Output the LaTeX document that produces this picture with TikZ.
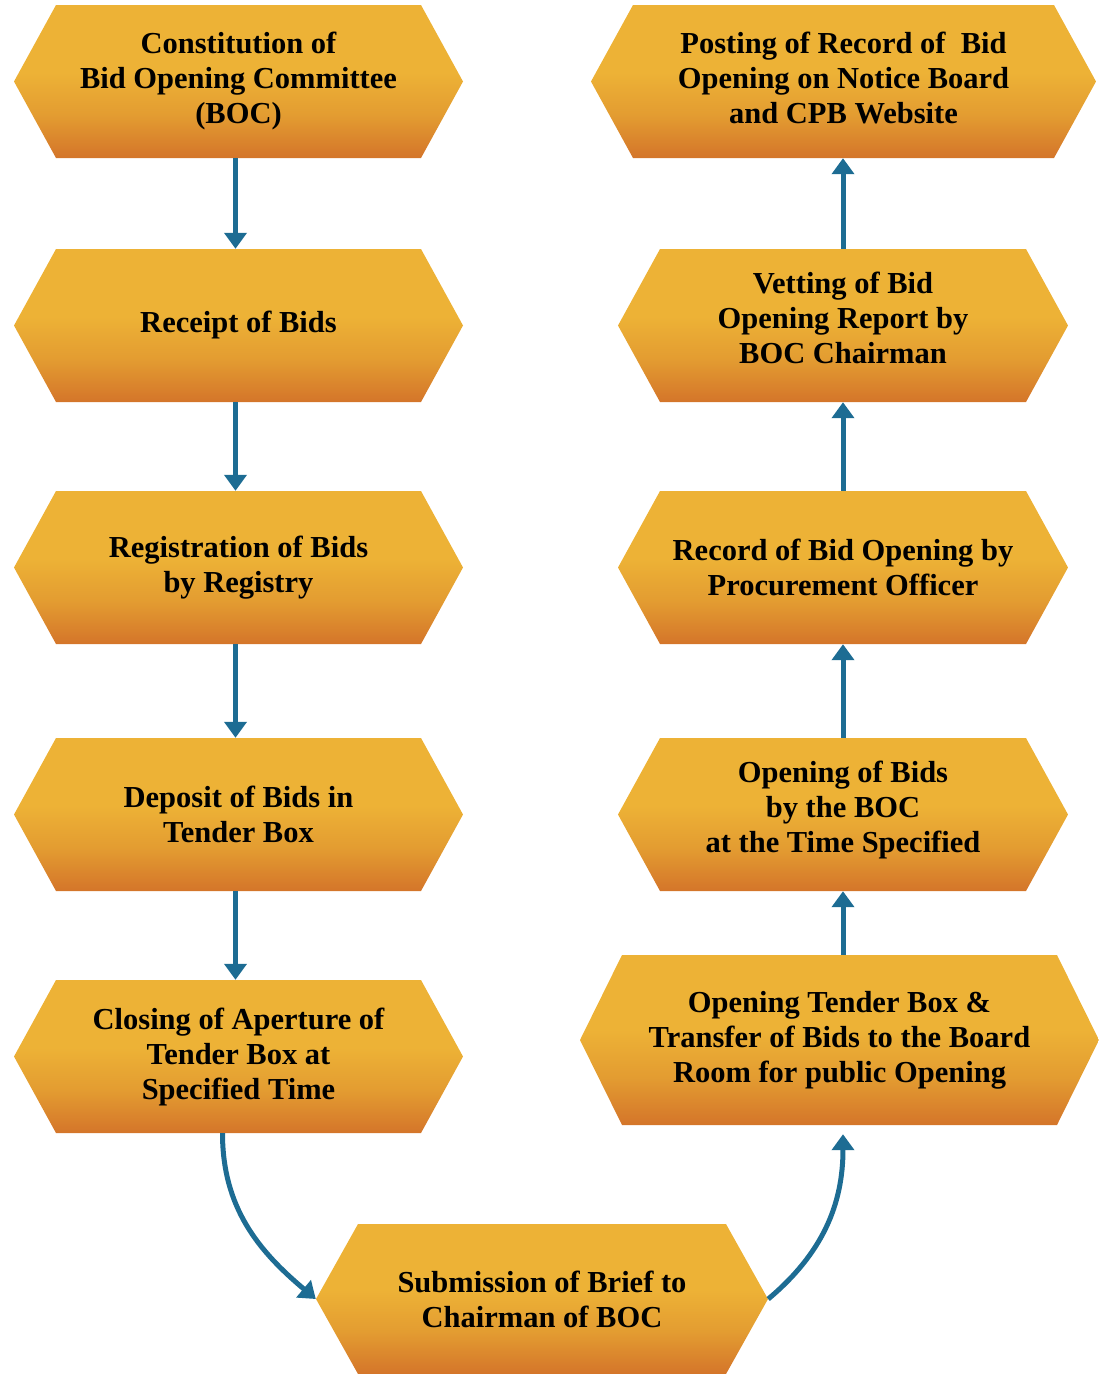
\documentclass[tikz,border=0pt]{standalone}
\usepackage{fontspec}
\setmainfont{Liberation Serif}
\usetikzlibrary{arrows.meta,calc}
\definecolor{hextop}{HTML}{EDB236}
\definecolor{hexmid}{HTML}{E39C31}
\definecolor{hexbot}{HTML}{D4752A}
\definecolor{flowblue}{HTML}{1D6C93}
% bottom-to-top fill of the step boxes (path spans 25bp..75bp)
\pgfdeclareverticalshading{hexfill}{100bp}{color(0bp)=(hexbot); color(25bp)=(hexbot); color(39bp)=(hexmid); color(53bp)=(hextop); color(100bp)=(hextop)}
% centred block of lines drawn #1 higher, keeping its natural size
\newcommand{\liftlines}[2]{\raisebox{#1}[\height][\depth]{\begin{tabular}{@{}c@{}}#2\end{tabular}}}
\begin{document}
\begin{tikzpicture}[x=1pt,y=1pt,
  hexbox/.style={rectangle, inner sep=0pt, minimum height=153pt, align=center,
    font=\bfseries\fontsize{30.5}{35}\selectfont, text=black,
    path picture={\shade[shading=hexfill]
      (path picture bounding box.west)
      -- ([xshift=42pt]path picture bounding box.north west)
      -- ([xshift=-42pt]path picture bounding box.north east)
      -- (path picture bounding box.east)
      -- ([xshift=-42pt]path picture bounding box.south east)
      -- ([xshift=42pt]path picture bounding box.south west) -- cycle;}},
  flow/.style={draw=flowblue, line width=5pt, -{Triangle[width=22pt,length=16pt]}}]

\useasboundingbox (0,0) rectangle (1099,-1374);

% left column
\node[hexbox, minimum width=449pt] (L1) at (238.5,-81.5) {Constitution of\\Bid Opening Committee\\(BOC)};
\node[hexbox, minimum width=449pt] (L2) at (238.5,-325.5) {Receipt of Bids};
\node[hexbox, minimum width=449pt] (L3) at (238.5,-567.5) {Registration of Bids\\by Registry};
\node[hexbox, minimum width=449pt] (L4) at (238.5,-814.5) {Deposit of Bids in\\Tender Box};
\node[hexbox, minimum width=449pt] (L5) at (238.5,-1056.5) {Closing of Aperture of\\Tender Box at\\Specified Time};

% bottom step
\node[hexbox, minimum width=452pt, minimum height=150pt] (B) at (542,-1299) {Submission of Brief to\\Chairman of BOC};

% right column
\node[hexbox, minimum width=519pt, minimum height=170pt] (R5) at (839.5,-1040) {Opening Tender Box \&\\Transfer of Bids to the Board\\Room for public Opening};
\node[hexbox, minimum width=450pt] (R4) at (843,-814.5) {\liftlines{4pt}{Opening of Bids\\by the BOC\\at the Time Specified}};
\node[hexbox, minimum width=450pt] (R3) at (843,-567.5) {Record of Bid Opening by\\Procurement Officer};
\node[hexbox, minimum width=450pt] (R2) at (843,-325.5) {\liftlines{4pt}{Vetting of Bid\\Opening Report by\\BOC Chairman}};
\node[hexbox, minimum width=505pt] (R1) at (843.5,-81.5) {\liftlines{0pt}{Posting of Record of \ Bid\\Opening on Notice Board\\and CPB Website}};

% connectors down the left column
\draw[flow] ([xshift=-3pt]L1.south) -- ([xshift=-3pt]L2.north);
\draw[flow] ([xshift=-3pt]L2.south) -- ([xshift=-3pt]L3.north);
\draw[flow] ([xshift=-3pt]L3.south) -- ([xshift=-3pt]L4.north);
\draw[flow] ([xshift=-3pt]L4.south) -- ([xshift=-3pt]L5.north);

% curved connectors through the bottom step
\draw[flow] ([xshift=-16pt]L5.south) to[out=-90,in=140] (B.west);
\draw[flow] (B.east) to[out=40,in=-90] ($(R5.south)+(3.5,-9)$);

% connectors up the right column
\draw[flow] (R5.north -| R4.south) -- (R4.south);
\draw[flow] (R4.north) -- (R3.south);
\draw[flow] (R3.north) -- (R2.south);
\draw[flow] (R2.north) -- (R1.south -| R2.north);
\end{tikzpicture}
\end{document}
